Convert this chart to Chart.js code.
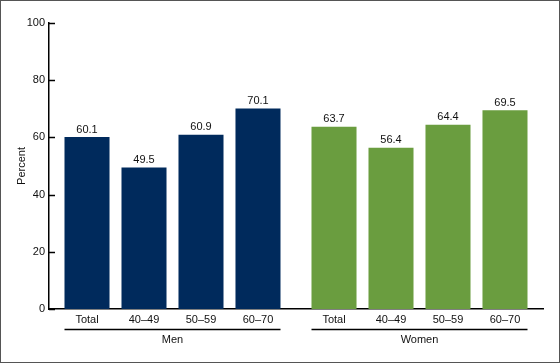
<!DOCTYPE html>
<html>
<head>
<meta charset="utf-8">
<script src="https://cdn.jsdelivr.net/npm/chart.js@4"></script>
<style>
  body { margin: 0; background: #fff; }
  #wrap { width: 560px; height: 363px; }
</style>
</head>
<body>
<div id="wrap"><canvas id="chart" width="560" height="363"></canvas></div>
<script>
"use strict"

// data
const groups = ["Men", "Women"]
const ageGroups = ["Total", "40\u201349", "50\u201359", "60\u201370"]
const menValues = [60.1, 49.5, 60.9, 70.1]
const womenValues = [63.7, 56.4, 64.4, 69.5]
const yTicks = [0, 20, 40, 60, 80, 100]

const groupColors = ["#002a5c", "#6a9d3f"]
const font = "'Liberation Sans', Arial, sans-serif"

// one dataset per age group, one bar per sex
const datasets = ageGroups.map(function (age, i) {
	return {
		label: age,
		data: [menValues[i], womenValues[i]],
		backgroundColor: groupColors,
		borderWidth: 0,
		categoryPercentage: 0.923,
		barPercentage: 0.79
	}
})

const labelsPlugin = {
	id: "labels",
	beforeDraw: function (chart) {
		const ctx = chart.ctx
		ctx.save()
		ctx.fillStyle = "#fff"
		ctx.fillRect(0, 0, chart.width, chart.height)
		ctx.restore()
	},
	afterDraw: function (chart) {
		const ctx = chart.ctx
		const area = chart.chartArea
		const y = chart.scales.y
		ctx.save()

		// tick marks on the inside of the y axis
		ctx.strokeStyle = "#000"
		ctx.lineWidth = 1.5
		yTicks.forEach(function (v) {
			const py = Math.round(y.getPixelForValue(v)) + 0.5
			ctx.beginPath()
			ctx.moveTo(area.left, py)
			ctx.lineTo(area.left + 6, py)
			ctx.stroke()
		})

		ctx.font = "11px " + font
		ctx.fillStyle = "#111"
		ctx.textAlign = "center"

		const edges = groups.map(function () { return { min: Infinity, max: -Infinity } })
		chart.data.datasets.forEach(function (ds, di) {
			const meta = chart.getDatasetMeta(di)
			meta.data.forEach(function (bar, gi) {
				// value on top of the bar
				ctx.textBaseline = "bottom"
				ctx.fillText(ds.data[gi].toFixed(1), bar.x, bar.y - 2)
				// age group under the axis
				ctx.textBaseline = "middle"
				ctx.fillText(ds.label, bar.x, area.bottom + 11)
				edges[gi].min = Math.min(edges[gi].min, bar.x - bar.width / 2)
				edges[gi].max = Math.max(edges[gi].max, bar.x + bar.width / 2)
			})
		})

		// bracket lines over Men / Women
		ctx.lineWidth = 1.5
		edges.forEach(function (e) {
			ctx.beginPath()
			ctx.moveTo(e.min, area.bottom + 20.5)
			ctx.lineTo(e.max, area.bottom + 20.5)
			ctx.stroke()
		})

		// outer frame
		ctx.strokeStyle = "#555"
		ctx.lineWidth = 1
		ctx.strokeRect(0.5, 0.5, chart.width - 1, chart.height - 1)
		ctx.restore()
	}
}

new Chart(document.getElementById("chart"), {
	type: "bar",
	data: { labels: groups, datasets: datasets },
	options: {
		responsive: false,
		animation: false,
		layout: { padding: { top: 23, right: 17, left: 0, bottom: 0 } },
		plugins: {
			legend: { display: false },
			tooltip: { enabled: false }
		},
		scales: {
			x: {
				grid: { display: false, drawTicks: false },
				border: { display: true, color: "#000", width: 1.5 },
				ticks: {
					padding: 24,
					color: "#111",
					font: { family: font, size: 11 }
				},
				afterFit: function (scale) { scale.height = 54 }
			},
			y: {
				min: 0,
				max: 100,
				grid: { display: false, drawTicks: false },
				border: { display: true, color: "#000", width: 1.5 },
				ticks: {
					stepSize: 20,
					padding: 4,
					color: "#111",
					font: { family: font, size: 11 }
				},
				title: {
					display: true,
					text: "Percent",
					color: "#111",
					font: { family: font, size: 11 },
					padding: { top: 15, bottom: 0 }
				},
				afterFit: function (scale) { scale.width = 49 }
			}
		}
	},
	plugins: [labelsPlugin]
})
</script>
</body>
</html>
